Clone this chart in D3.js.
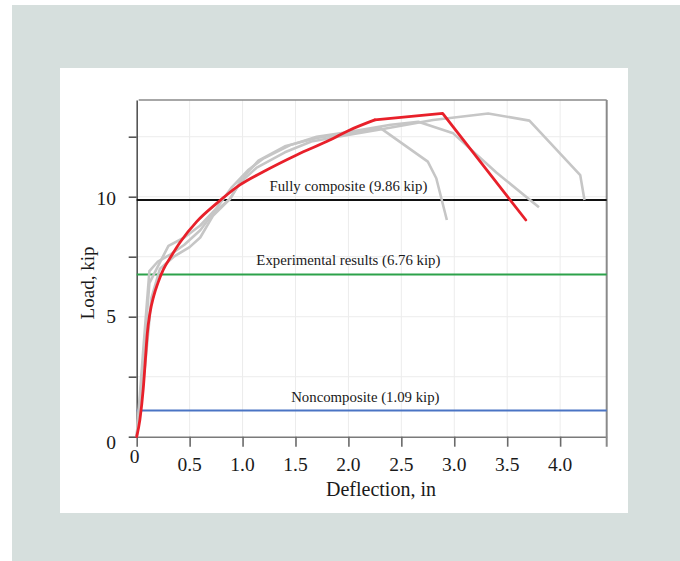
<!DOCTYPE html>
<html>
<head>
<meta charset="utf-8">
<script src="https://cdn.jsdelivr.net/npm/d3@7"></script>
<style>
  html, body { margin: 0; padding: 0; background: #ffffff; }
  svg { display: block; }
  text { font-family: "Liberation Serif", "DejaVu Serif", serif; fill: #1a1a1a; }
</style>
</head>
<body>
<svg id="chart" width="680" height="561"></svg>
<script>
// Load–deflection results, deflection in inches, load in kip
const modelCurve = [
  [0, 0], [0.03, 0.7], [0.062, 2.0], [0.085, 3.4], [0.1, 4.3], [0.125, 5.15],
  [0.16, 5.85], [0.2, 6.4], [0.25, 6.95], [0.33, 7.55], [0.41, 8.1],
  [0.567, 8.96], [0.755, 9.72], [0.975, 10.49], [1.196, 11.04], [1.511, 11.74],
  [1.825, 12.36], [2.014, 12.78], [2.25, 13.2]
];
const modelTail = [[2.25, 13.2], [2.89, 13.47], [3.676, 9.03]];

const testA = [
  [0, 0], [0.06, 3.5], [0.12, 6.9], [0.2, 7.3], [0.32, 7.6], [0.45, 8.0],
  [0.6, 8.6], [0.72, 9.3], [0.88, 9.9], [1.0, 10.8], [1.15, 11.5], [1.4, 12.1],
  [1.7, 12.45], [2.0, 12.65], [2.3, 12.87], [2.75, 11.46], [2.83, 10.77], [2.93, 9.03]
];
const testB = [
  [0, 0], [0.05, 2.5], [0.12, 6.4], [0.2, 7.1], [0.3, 7.95], [0.45, 8.3],
  [0.6, 8.8], [0.75, 9.5], [0.9, 10.4], [1.05, 11.1], [1.2, 11.6], [1.45, 12.15],
  [1.7, 12.5], [2.0, 12.7], [2.4, 13.0], [2.66, 13.12], [2.99, 12.64], [3.4, 11.0], [3.8, 9.56]
];
const testC = [
  [0, 0], [0.08, 3.0], [0.14, 5.8], [0.22, 7.0], [0.35, 7.5], [0.5, 7.9],
  [0.6, 8.3], [0.72, 9.2], [0.88, 9.9], [0.98, 10.6], [1.13, 11.2], [1.4, 11.85],
  [1.65, 12.3], [1.9, 12.5], [2.3, 12.8], [2.8, 13.2], [3.32, 13.47], [3.71, 13.17], [4.19, 10.9], [4.23, 9.86]
];

const refNames = ["Fully composite (9.86 kip)", "Experimental results (6.76 kip)", "Noncomposite (1.09 kip)"];
const refValues = [9.86, 6.76, 1.09];
const refColors = ["#111111", "#2ca24a", "#4a74c4"];
const refLabelX = [2.0, 2.0, 2.16];

const xTicks = [0, 0.5, 1.0, 1.5, 2.0, 2.5, 3.0, 3.5, 4.0];
const xTickLabels = ["0", "0.5", "1.0", "1.5", "2.0", "2.5", "3.0", "3.5", "4.0"];
const yTicks = [0, 2.5, 5, 7.5, 10, 12.5];
const yTickLabels = ["0", "", "5", "", "10", ""];

const svg = d3.select("#chart");

// page backdrop and white card
svg.append("rect").attr("x", 12).attr("y", 5).attr("width", 668).attr("height", 556).attr("fill", "#d6dfdd");
svg.append("rect").attr("x", 60).attr("y", 68).attr("width", 568).attr("height", 445).attr("fill", "#ffffff");

const plotL = 136.7, plotR = 606.7, plotT = 100, plotB = 436.7;
const x = d3.scaleLinear().domain([0, 4.44]).range([plotL, plotR]);
const y = d3.scaleLinear().domain([0, 14.03]).range([plotB, plotT]);

// grid
const grid = svg.append("g");
grid.selectAll("line.vx").data(xTicks.slice(1)).join("line")
  .attr("x1", d => x(d)).attr("x2", d => x(d)).attr("y1", plotT).attr("y2", plotB)
  .attr("stroke", "#ececec").attr("stroke-width", 1);
grid.selectAll("line.hy").data(yTicks.slice(1)).join("line")
  .attr("x1", plotL).attr("x2", plotR).attr("y1", d => y(d)).attr("y2", d => y(d))
  .attr("stroke", "#ececec").attr("stroke-width", 1);

// axes
const xAxis = svg.append("g").attr("transform", `translate(0,${plotB})`)
  .call(d3.axisBottom(x).tickValues(xTicks).tickFormat("").tickSize(10).tickSizeOuter(0));
xAxis.select(".domain").attr("stroke", "#7a7a7a").attr("stroke-width", 1.6);
xAxis.selectAll(".tick line").attr("stroke", "#6a6a6a").attr("stroke-width", 1.6);

const yAxis = svg.append("g").attr("transform", `translate(${plotL},0)`)
  .call(d3.axisLeft(y).tickValues(yTicks).tickFormat("").tickSize(8).tickSizeOuter(0));
yAxis.select(".domain").attr("stroke", "#555").attr("stroke-width", 1.6);
yAxis.selectAll(".tick line").attr("stroke", "#555").attr("stroke-width", 1.6);

// frame top and right
svg.append("line").attr("x1", plotL + 2).attr("x2", plotR).attr("y1", plotT).attr("y2", plotT)
  .attr("stroke", "#8a8a8a").attr("stroke-width", 1.6);
svg.append("line").attr("x1", plotR).attr("x2", plotR).attr("y1", plotT).attr("y2", plotB + 10)
  .attr("stroke", "#8a8a8a").attr("stroke-width", 2);

// tick labels
svg.append("g").selectAll("text").data(xTicks).join("text")
  .attr("x", d => x(d) - (d === 0 ? 2 : 0))
  .attr("y", d => d === 0 ? 463 : 471)
  .attr("text-anchor", "middle").attr("font-size", 19.5)
  .text((d, i) => xTickLabels[i]);
svg.append("g").selectAll("text").data(yTicks).join("text")
  .attr("x", 116).attr("y", d => y(d) + 8 + (d === 0 ? 4 : 0) - (d === 5 ? 2 : 0))
  .attr("text-anchor", "end").attr("font-size", 19.5)
  .text((d, i) => yTickLabels[i]);

// axis titles
svg.append("text").attr("x", 381).attr("y", 496).attr("text-anchor", "middle")
  .attr("font-size", 20).text("Deflection, in");
svg.append("text").attr("transform", "translate(94,283) rotate(-90)").attr("text-anchor", "middle")
  .attr("font-size", 19).text("Load, kip");

// reference capacities
const refs = svg.append("g");
refValues.forEach((v, i) => {
  refs.append("line").attr("x1", plotL).attr("x2", plotR).attr("y1", y(v)).attr("y2", y(v))
    .attr("stroke", refColors[i]).attr("stroke-width", 2);
  refs.append("text").attr("x", x(refLabelX[i])).attr("y", y(v) - 9)
    .attr("text-anchor", "middle").attr("font-size", 14.8).text(refNames[i]);
});

// test curves
const line = d3.line().x(d => x(d[0])).y(d => y(d[1]));
svg.append("g").selectAll("path").data([testA, testB, testC]).join("path")
  .attr("d", line).attr("fill", "none").attr("stroke", "#c6c6c6")
  .attr("stroke-width", 2.6).attr("stroke-linejoin", "round");

// model prediction
const smooth = d3.line().x(d => x(d[0])).y(d => y(d[1])).curve(d3.curveMonotoneX);
svg.append("path").attr("d", smooth(modelCurve)).attr("fill", "none")
  .attr("stroke", "#e8202a").attr("stroke-width", 2.8).attr("stroke-linecap", "round");
svg.append("path").attr("d", line(modelTail)).attr("fill", "none")
  .attr("stroke", "#e8202a").attr("stroke-width", 2.8).attr("stroke-linecap", "round")
  .attr("stroke-linejoin", "round");
</script>
</body>
</html>
